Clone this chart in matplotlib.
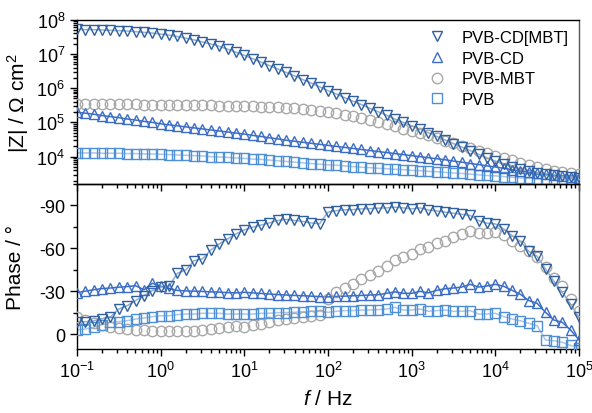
import matplotlib
matplotlib.use("Agg")
import matplotlib.pyplot as plt
from matplotlib.ticker import LogLocator, MultipleLocator, NullFormatter
import numpy as np

plt.rcParams["font.family"] = ["Liberation Sans", "DejaVu Sans"]
plt.rcParams["mathtext.fontset"] = "custom"
plt.rcParams["mathtext.rm"] = "Liberation Sans"
plt.rcParams["mathtext.it"] = "Liberation Sans:italic"
plt.rcParams["axes.unicode_minus"] = False

# frequency grid: 10 points per decade, 0.1 Hz .. 100 kHz
MANTISSA = [1.0, 1.259, 1.585, 1.995, 2.512, 3.162, 3.981, 5.012, 6.310, 7.943]
DECADES = [-1, 0, 1, 2, 3, 4]
freq = [m * 10.0 ** d for d in DECADES for m in MANTISSA] + [1e5]

LABELS = ["PVB-CD[MBT]", "PVB-CD", "PVB-MBT", "PVB"]

# log10 |Z| (Ohm cm2)
logz_cdmbt = [7.72, 7.71, 7.71, 7.70, 7.69, 7.68, 7.67, 7.65, 7.63, 7.61,
              7.58, 7.55, 7.51, 7.46, 7.41, 7.35, 7.29, 7.22, 7.14, 7.05,
              6.96, 6.86, 6.76, 6.66, 6.56, 6.46, 6.36, 6.25, 6.15, 6.04,
              5.93, 5.83, 5.72, 5.62, 5.52, 5.41, 5.31, 5.21, 5.10, 5.00,
              4.90, 4.80, 4.70, 4.59, 4.49, 4.38, 4.28, 4.18, 4.07, 3.97,
              3.87, 3.78, 3.70, 3.63, 3.58, 3.53, 3.49, 3.46, 3.43, 3.41,
              3.39]
logz_cd = [5.30, 5.27, 5.24, 5.20, 5.17, 5.14, 5.10, 5.07, 5.03, 5.00,
           4.96, 4.93, 4.90, 4.87, 4.84, 4.81, 4.78, 4.75, 4.72, 4.69,
           4.66, 4.62, 4.59, 4.55, 4.52, 4.48, 4.45, 4.42, 4.39, 4.36,
           4.33, 4.30, 4.27, 4.24, 4.21, 4.18, 4.15, 4.12, 4.09, 4.06,
           4.03, 4.00, 3.97, 3.94, 3.91, 3.87, 3.84, 3.80, 3.77, 3.73,
           3.70, 3.66, 3.62, 3.58, 3.55, 3.51, 3.48, 3.45, 3.43, 3.41,
           3.39]
logz_mbt = [5.54, 5.54, 5.54, 5.54, 5.53, 5.53, 5.53, 5.53, 5.52, 5.52,
            5.52, 5.51, 5.51, 5.51, 5.50, 5.50, 5.50, 5.49, 5.49, 5.48,
            5.48, 5.47, 5.46, 5.45, 5.44, 5.43, 5.41, 5.39, 5.37, 5.34,
            5.31, 5.27, 5.23, 5.18, 5.13, 5.07, 5.01, 4.95, 4.89, 4.82,
            4.76, 4.69, 4.62, 4.55, 4.47, 4.40, 4.32, 4.25, 4.17, 4.10,
            4.03, 3.96, 3.89, 3.82, 3.76, 3.70, 3.64, 3.59, 3.55, 3.52,
            3.49]
logz_pvb = [4.11, 4.11, 4.11, 4.10, 4.10, 4.10, 4.09, 4.09, 4.08, 4.08,
            4.07, 4.06, 4.05, 4.04, 4.03, 4.02, 4.00, 3.99, 3.98, 3.96,
            3.95, 3.93, 3.92, 3.90, 3.88, 3.86, 3.84, 3.82, 3.80, 3.78,
            3.76, 3.75, 3.73, 3.71, 3.69, 3.68, 3.66, 3.65, 3.63, 3.62,
            3.60, 3.59, 3.57, 3.56, 3.54, 3.52, 3.51, 3.49, 3.47, 3.45,
            3.44, 3.42, 3.40, 3.38, 3.37, 3.35, 3.34, 3.33, 3.32, 3.31,
            3.31]

# phase angle (degrees)
ph_cdmbt = [-8.6, -8.6, -9.3, -10.8, -12.0, -17.5, -19.8, -23.4, -26.9, -30.4,
            -32.7, -33.4, -42.5, -44.8, -51.4, -52.6, -58.9, -63.1, -66.6, -70.1,
            -72.9, -74.8, -76.3, -77.8, -79.5, -80.2, -79.5, -78.8, -77.8, -77.2,
            -85.3, -86.4, -86.9, -87.1, -87.6, -87.8, -88.1, -88.3, -88.8, -88.3,
            -87.6, -88.3, -86.8, -86.2, -85.3, -84.6, -83.8, -83.0, -79.4, -77.6,
            -77.1, -73.6, -68.9, -64.9, -57.9, -54.5, -45.5, -37.0, -29.2, -21.0,
            -11.7]
ph_cd = [-29.0, -30.0, -31.0, -31.8, -32.2, -32.8, -33.2, -33.8, -31.0, -35.5,
         -33.5, -32.0, -30.5, -30.2, -30.0, -29.8, -29.5, -29.3, -29.0, -28.8,
         -29.2, -28.8, -28.4, -28.0, -27.6, -27.3, -27.0, -26.8, -26.5, -26.2,
         -26.0, -26.3, -26.5, -26.8, -27.0, -27.3, -27.5, -28.5, -29.5, -28.5,
         -28.5, -29.9, -28.8, -30.6, -31.7, -32.2, -32.9, -34.8, -32.9, -33.6,
         -34.8, -33.4, -30.6, -27.8, -23.4, -21.5, -15.2, -9.8, -8.2, -2.8,
         4.0]
ph_mbt = [-12.0, -9.5, -7.5, -6.0, -5.0, -4.0, -3.3, -2.8, -2.5, -2.2,
          -2.0, -1.8, -1.8, -2.0, -2.3, -2.8, -3.3, -4.0, -4.8, -5.7,
          -5.1, -6.0, -6.8, -8.2, -9.5, -10.7, -11.4, -12.1, -12.8, -13.3,
          -24.5, -29.2, -32.0, -35.0, -38.5, -41.3, -44.4, -47.4, -52.1, -53.7,
          -56.0, -59.6, -61.2, -63.6, -65.4, -67.8, -70.1, -72.0, -70.6, -70.6,
          -71.3, -69.0, -65.4, -61.9, -58.4, -53.7, -46.7, -39.2, -33.9, -24.5,
          -16.4]
ph_pvb = [-2.8, -3.5, -4.7, -6.5, -8.2, -8.6, -9.3, -10.5, -11.2, -12.2,
          -12.8, -12.8, -13.6, -14.0, -14.0, -14.5, -14.5, -14.5, -14.0, -14.0,
          -14.0, -14.0, -14.5, -14.5, -15.0, -15.0, -15.2, -15.6, -15.9, -15.9,
          -15.2, -15.9, -16.4, -16.4, -16.8, -16.8, -17.1, -17.5, -18.7, -16.8,
          -16.8, -17.5, -15.9, -16.4, -16.8, -15.9, -15.9, -16.4, -14.0, -14.0,
          -14.5, -12.2, -10.5, -9.3, -7.5, -5.8, 4.2, 4.7, 5.8, 8.0,
          9.5]

MARKERS = ["v", "^", "o", "s"]
EDGE = ["#2f5f9e", "#3b6dc6", "#a8a8a8", "#4f8fd6"]
FIT = ["#8fb0d8", "#3b6dc6", None, "#a9c8ec"]

fig = plt.figure(figsize=(5.92, 4.14), dpi=100)
ax1 = fig.add_axes([0.130, 0.553, 0.848, 0.397])
ax2 = fig.add_axes([0.130, 0.1546, 0.848, 0.3984])
ax2.patch.set_visible(False)

f = np.array(freq)
mags = [logz_cdmbt, logz_cd, logz_mbt, logz_pvb]
phases = [ph_cdmbt, ph_cd, ph_mbt, ph_pvb]

handles = [None] * 4
for i in [2, 3, 1, 0]:
    z = 10.0 ** np.array(mags[i])
    p = np.array(phases[i])
    if FIT[i]:
        ax1.plot(f, z, color=FIT[i], lw=1.1, zorder=2)
        ax2.plot(f, p, color=FIT[i], lw=1.1, zorder=2)
    kw = dict(ls="none", marker=MARKERS[i], ms=7.5, mfc="none",
              mec=EDGE[i], mew=1.0, zorder=3)
    handles[i], = ax1.plot(f, z, label=LABELS[i], **kw)
    ax2.plot(f, p, **kw)

for ax in (ax1, ax2):
    ax.set_xscale("log")
    ax.set_xlim(0.1, 1e5)
    ax.tick_params(which="both", direction="out", labelsize=13, width=1)
    ax.tick_params(which="major", length=5)
    ax.tick_params(which="minor", length=3)
    ax.xaxis.set_major_locator(LogLocator(base=10, numticks=10))
    ax.xaxis.set_minor_locator(LogLocator(base=10, subs=np.arange(2, 10), numticks=10))
    ax.xaxis.set_minor_formatter(NullFormatter())
    for s in ax.spines.values():
        s.set_linewidth(1.0)
    ax.spines["right"].set_color("#555555")

ax1.set_yscale("log")
ax1.set_ylim(10 ** 3.2, 1e8)
ax1.yaxis.set_major_locator(LogLocator(base=10, numticks=10))
ax1.yaxis.set_minor_locator(LogLocator(base=10, subs=np.arange(2, 10), numticks=10))
ax1.yaxis.set_minor_formatter(NullFormatter())
ax1.tick_params(axis="x", which="both", labelbottom=False)
ax1.set_ylabel(r"|Z| / $\Omega$ cm$^2$", fontsize=15, labelpad=4)

ax2.set_ylim(10.5, -105)
ax2.yaxis.set_major_locator(MultipleLocator(30))
ax2.yaxis.set_minor_locator(MultipleLocator(15))
ax2.yaxis.set_minor_formatter(NullFormatter())
ax2.tick_params(axis="x", which="both", top=False)
ax2.set_ylabel("Phase / °", fontsize=15, labelpad=10)
ax2.set_xlabel(r"$\it{f}$ / Hz", fontsize=15, labelpad=6)

ax1.legend(handles=handles, loc="upper right", frameon=False, fontsize=12,
           handlelength=1.0, handletextpad=1.0, labelspacing=0.35,
           borderaxespad=0.2, bbox_to_anchor=(1.0, 1.0))

fig.savefig("out.png", dpi=100)
